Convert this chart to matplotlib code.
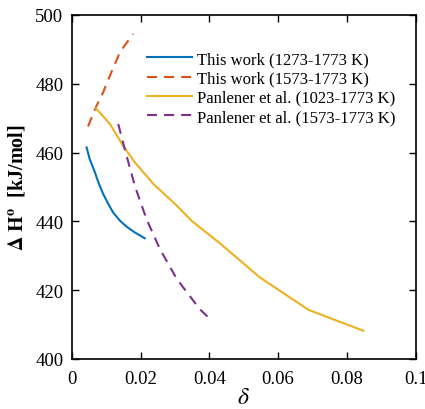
import matplotlib.pyplot as plt

plt.rcParams['font.family'] = ['Liberation Serif', 'DejaVu Serif']
plt.rcParams['mathtext.fontset'] = 'stix'

# curve data
blue_x = [0.0043, 0.0052, 0.0067, 0.0077, 0.0091, 0.0106, 0.012, 0.014, 0.0159, 0.0183, 0.0212]
blue_y = [461.5, 458.1, 454.3, 451.4, 448.0, 445.1, 442.6, 440.2, 438.5, 436.8, 435.1]

red_x = [0.0047, 0.007, 0.0091, 0.0111, 0.014, 0.0178]
red_y = [467.6, 473.2, 477.5, 482.4, 489.2, 494.5]

orange_x = [0.007, 0.0111, 0.0149, 0.0183, 0.0237, 0.0305, 0.0348, 0.0431, 0.0547, 0.0688, 0.0848]
orange_y = [472.9, 468.3, 462.0, 457.2, 450.9, 444.6, 440.2, 433.6, 423.7, 414.3, 408.2]

purple_x = [0.0135, 0.0154, 0.0183, 0.0217, 0.0256, 0.0305, 0.0372, 0.0402]
purple_y = [468.3, 461.0, 450.4, 440.7, 432.0, 423.3, 414.5, 411.6]

labels = ["This work (1273-1773 K)", "This work (1573-1773 K)",
          "Panlener et al. (1023-1773 K)", "Panlener et al. (1573-1773 K)"]

dash = (0, (4.8, 3.4))

fig = plt.figure(figsize=(4.25, 4.1), dpi=100)
ax = fig.add_axes([0.169, 0.122, 0.809, 0.839])

ax.plot(blue_x, blue_y, '-', color='#0072BD', lw=1.5, label=labels[0])
ax.plot(red_x, red_y, linestyle=dash, color='#D95319', lw=1.5, label=labels[1])
ax.plot(orange_x, orange_y, '-', color='#EDB120', lw=1.5, label=labels[2])
ax.plot(purple_x, purple_y, linestyle=dash, color='#7E2F8E', lw=1.5, label=labels[3])

ax.set_xlim(0, 0.1)
ax.set_ylim(400, 500)
ax.set_xticks([0, 0.02, 0.04, 0.06, 0.08, 0.1])
ax.set_xticklabels(['0', '0.02', '0.04', '0.06', '0.08', '0.1'])
ax.set_yticks([400, 420, 440, 460, 480, 500])
ax.tick_params(direction='in', top=True, right=True, length=5, width=1, labelsize=13.5)
ax.tick_params(axis='x', pad=8)
ax.tick_params(axis='y', pad=6)
for s in ax.spines.values():
    s.set_linewidth(1.2)

ax.set_xlabel(r'$\delta$', fontsize=17, labelpad=0)
ax.set_ylabel(r'$\mathbf{\Delta\ H^o}$  [kJ/mol]', fontsize=14.5, fontweight='bold', labelpad=6)

ax.legend(loc='upper left', bbox_to_anchor=(0.218, 0.895), frameon=False, fontsize=12,
          borderpad=0, borderaxespad=0,
          handlelength=2.7, handletextpad=0.3, labelspacing=0.2)

fig.savefig('out.png', dpi=100)
